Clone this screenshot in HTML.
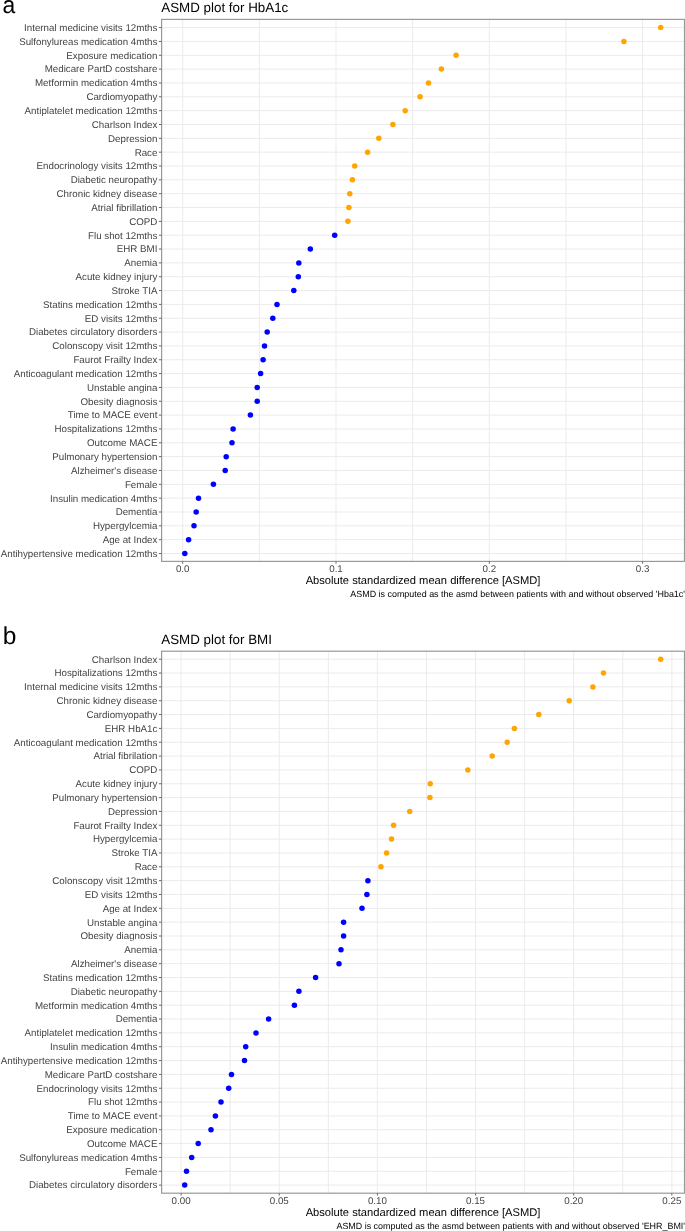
<!DOCTYPE html>
<html><head><meta charset="utf-8"><style>
html,body{margin:0;padding:0;background:#fff;width:685px;height:1231px;overflow:hidden;}
svg{display:block;font-family:"Liberation Sans", sans-serif;will-change:transform;text-rendering:geometricPrecision;}
</style></head><body>
<svg width="685" height="1231" viewBox="0 0 685 1231">
<rect width="685" height="1231" fill="#fff"/>
<text transform="translate(2.55,13.0) scale(0.955,1)" font-size="24" fill="#000">a</text>
<text x="161.3" y="12.3" font-size="13.37" fill="#000">ASMD plot for HbA1c</text>
<line x1="182.70" y1="19.40" x2="182.70" y2="561.40" stroke="#EBEBEB" stroke-width="1"/>
<line x1="259.35" y1="19.40" x2="259.35" y2="561.40" stroke="#EBEBEB" stroke-width="1"/>
<line x1="336.00" y1="19.40" x2="336.00" y2="561.40" stroke="#EBEBEB" stroke-width="1"/>
<line x1="412.65" y1="19.40" x2="412.65" y2="561.40" stroke="#EBEBEB" stroke-width="1"/>
<line x1="489.30" y1="19.40" x2="489.30" y2="561.40" stroke="#EBEBEB" stroke-width="1"/>
<line x1="565.95" y1="19.40" x2="565.95" y2="561.40" stroke="#EBEBEB" stroke-width="1"/>
<line x1="642.60" y1="19.40" x2="642.60" y2="561.40" stroke="#EBEBEB" stroke-width="1"/>
<line x1="161.60" y1="27.60" x2="684.50" y2="27.60" stroke="#EBEBEB" stroke-width="1"/>
<line x1="161.60" y1="41.44" x2="684.50" y2="41.44" stroke="#EBEBEB" stroke-width="1"/>
<line x1="161.60" y1="55.28" x2="684.50" y2="55.28" stroke="#EBEBEB" stroke-width="1"/>
<line x1="161.60" y1="69.12" x2="684.50" y2="69.12" stroke="#EBEBEB" stroke-width="1"/>
<line x1="161.60" y1="82.96" x2="684.50" y2="82.96" stroke="#EBEBEB" stroke-width="1"/>
<line x1="161.60" y1="96.80" x2="684.50" y2="96.80" stroke="#EBEBEB" stroke-width="1"/>
<line x1="161.60" y1="110.64" x2="684.50" y2="110.64" stroke="#EBEBEB" stroke-width="1"/>
<line x1="161.60" y1="124.48" x2="684.50" y2="124.48" stroke="#EBEBEB" stroke-width="1"/>
<line x1="161.60" y1="138.32" x2="684.50" y2="138.32" stroke="#EBEBEB" stroke-width="1"/>
<line x1="161.60" y1="152.16" x2="684.50" y2="152.16" stroke="#EBEBEB" stroke-width="1"/>
<line x1="161.60" y1="166.00" x2="684.50" y2="166.00" stroke="#EBEBEB" stroke-width="1"/>
<line x1="161.60" y1="179.84" x2="684.50" y2="179.84" stroke="#EBEBEB" stroke-width="1"/>
<line x1="161.60" y1="193.68" x2="684.50" y2="193.68" stroke="#EBEBEB" stroke-width="1"/>
<line x1="161.60" y1="207.52" x2="684.50" y2="207.52" stroke="#EBEBEB" stroke-width="1"/>
<line x1="161.60" y1="221.36" x2="684.50" y2="221.36" stroke="#EBEBEB" stroke-width="1"/>
<line x1="161.60" y1="235.20" x2="684.50" y2="235.20" stroke="#EBEBEB" stroke-width="1"/>
<line x1="161.60" y1="249.04" x2="684.50" y2="249.04" stroke="#EBEBEB" stroke-width="1"/>
<line x1="161.60" y1="262.88" x2="684.50" y2="262.88" stroke="#EBEBEB" stroke-width="1"/>
<line x1="161.60" y1="276.72" x2="684.50" y2="276.72" stroke="#EBEBEB" stroke-width="1"/>
<line x1="161.60" y1="290.56" x2="684.50" y2="290.56" stroke="#EBEBEB" stroke-width="1"/>
<line x1="161.60" y1="304.40" x2="684.50" y2="304.40" stroke="#EBEBEB" stroke-width="1"/>
<line x1="161.60" y1="318.24" x2="684.50" y2="318.24" stroke="#EBEBEB" stroke-width="1"/>
<line x1="161.60" y1="332.08" x2="684.50" y2="332.08" stroke="#EBEBEB" stroke-width="1"/>
<line x1="161.60" y1="345.92" x2="684.50" y2="345.92" stroke="#EBEBEB" stroke-width="1"/>
<line x1="161.60" y1="359.76" x2="684.50" y2="359.76" stroke="#EBEBEB" stroke-width="1"/>
<line x1="161.60" y1="373.60" x2="684.50" y2="373.60" stroke="#EBEBEB" stroke-width="1"/>
<line x1="161.60" y1="387.44" x2="684.50" y2="387.44" stroke="#EBEBEB" stroke-width="1"/>
<line x1="161.60" y1="401.28" x2="684.50" y2="401.28" stroke="#EBEBEB" stroke-width="1"/>
<line x1="161.60" y1="415.12" x2="684.50" y2="415.12" stroke="#EBEBEB" stroke-width="1"/>
<line x1="161.60" y1="428.96" x2="684.50" y2="428.96" stroke="#EBEBEB" stroke-width="1"/>
<line x1="161.60" y1="442.80" x2="684.50" y2="442.80" stroke="#EBEBEB" stroke-width="1"/>
<line x1="161.60" y1="456.64" x2="684.50" y2="456.64" stroke="#EBEBEB" stroke-width="1"/>
<line x1="161.60" y1="470.48" x2="684.50" y2="470.48" stroke="#EBEBEB" stroke-width="1"/>
<line x1="161.60" y1="484.32" x2="684.50" y2="484.32" stroke="#EBEBEB" stroke-width="1"/>
<line x1="161.60" y1="498.16" x2="684.50" y2="498.16" stroke="#EBEBEB" stroke-width="1"/>
<line x1="161.60" y1="512.00" x2="684.50" y2="512.00" stroke="#EBEBEB" stroke-width="1"/>
<line x1="161.60" y1="525.84" x2="684.50" y2="525.84" stroke="#EBEBEB" stroke-width="1"/>
<line x1="161.60" y1="539.68" x2="684.50" y2="539.68" stroke="#EBEBEB" stroke-width="1"/>
<line x1="161.60" y1="553.52" x2="684.50" y2="553.52" stroke="#EBEBEB" stroke-width="1"/>
<circle cx="660.70" cy="27.60" r="2.75" fill="#FFA500"/>
<circle cx="623.90" cy="41.44" r="2.75" fill="#FFA500"/>
<circle cx="456.10" cy="55.28" r="2.75" fill="#FFA500"/>
<circle cx="441.40" cy="69.12" r="2.75" fill="#FFA500"/>
<circle cx="428.50" cy="82.96" r="2.75" fill="#FFA500"/>
<circle cx="420.10" cy="96.80" r="2.75" fill="#FFA500"/>
<circle cx="405.20" cy="110.64" r="2.75" fill="#FFA500"/>
<circle cx="392.90" cy="124.48" r="2.75" fill="#FFA500"/>
<circle cx="378.80" cy="138.32" r="2.75" fill="#FFA500"/>
<circle cx="367.60" cy="152.16" r="2.75" fill="#FFA500"/>
<circle cx="354.70" cy="166.00" r="2.75" fill="#FFA500"/>
<circle cx="352.40" cy="179.84" r="2.75" fill="#FFA500"/>
<circle cx="349.80" cy="193.68" r="2.75" fill="#FFA500"/>
<circle cx="348.90" cy="207.52" r="2.75" fill="#FFA500"/>
<circle cx="347.90" cy="221.36" r="2.75" fill="#FFA500"/>
<circle cx="334.70" cy="235.20" r="2.75" fill="#0000FF"/>
<circle cx="310.30" cy="249.04" r="2.75" fill="#0000FF"/>
<circle cx="298.80" cy="262.88" r="2.75" fill="#0000FF"/>
<circle cx="298.30" cy="276.72" r="2.75" fill="#0000FF"/>
<circle cx="293.80" cy="290.56" r="2.75" fill="#0000FF"/>
<circle cx="277.00" cy="304.40" r="2.75" fill="#0000FF"/>
<circle cx="272.80" cy="318.24" r="2.75" fill="#0000FF"/>
<circle cx="267.20" cy="332.08" r="2.75" fill="#0000FF"/>
<circle cx="264.50" cy="345.92" r="2.75" fill="#0000FF"/>
<circle cx="263.10" cy="359.76" r="2.75" fill="#0000FF"/>
<circle cx="260.60" cy="373.60" r="2.75" fill="#0000FF"/>
<circle cx="257.20" cy="387.44" r="2.75" fill="#0000FF"/>
<circle cx="257.20" cy="401.28" r="2.75" fill="#0000FF"/>
<circle cx="250.40" cy="415.12" r="2.75" fill="#0000FF"/>
<circle cx="233.10" cy="428.96" r="2.75" fill="#0000FF"/>
<circle cx="232.00" cy="442.80" r="2.75" fill="#0000FF"/>
<circle cx="226.20" cy="456.64" r="2.75" fill="#0000FF"/>
<circle cx="225.20" cy="470.48" r="2.75" fill="#0000FF"/>
<circle cx="213.40" cy="484.32" r="2.75" fill="#0000FF"/>
<circle cx="198.50" cy="498.16" r="2.75" fill="#0000FF"/>
<circle cx="196.20" cy="512.00" r="2.75" fill="#0000FF"/>
<circle cx="194.00" cy="525.84" r="2.75" fill="#0000FF"/>
<circle cx="188.60" cy="539.68" r="2.75" fill="#0000FF"/>
<circle cx="184.80" cy="553.52" r="2.75" fill="#0000FF"/>
<rect x="161.60" y="19.40" width="522.90" height="542.00" fill="none" stroke="#999999" stroke-width="1.2"/>
<line x1="158.9" y1="27.60" x2="161.60" y2="27.60" stroke="#666666" stroke-width="1"/>
<text x="157.4" y="30.95" font-size="9.75" fill="#444444" text-anchor="end">Internal medicine visits 12mths</text>
<line x1="158.9" y1="41.44" x2="161.60" y2="41.44" stroke="#666666" stroke-width="1"/>
<text x="157.4" y="44.79" font-size="9.75" fill="#444444" text-anchor="end">Sulfonylureas medication 4mths</text>
<line x1="158.9" y1="55.28" x2="161.60" y2="55.28" stroke="#666666" stroke-width="1"/>
<text x="157.4" y="58.63" font-size="9.75" fill="#444444" text-anchor="end">Exposure medication</text>
<line x1="158.9" y1="69.12" x2="161.60" y2="69.12" stroke="#666666" stroke-width="1"/>
<text x="157.4" y="72.47" font-size="9.75" fill="#444444" text-anchor="end">Medicare PartD costshare</text>
<line x1="158.9" y1="82.96" x2="161.60" y2="82.96" stroke="#666666" stroke-width="1"/>
<text x="157.4" y="86.31" font-size="9.75" fill="#444444" text-anchor="end">Metformin medication 4mths</text>
<line x1="158.9" y1="96.80" x2="161.60" y2="96.80" stroke="#666666" stroke-width="1"/>
<text x="157.4" y="100.15" font-size="9.75" fill="#444444" text-anchor="end">Cardiomyopathy</text>
<line x1="158.9" y1="110.64" x2="161.60" y2="110.64" stroke="#666666" stroke-width="1"/>
<text x="157.4" y="113.99" font-size="9.75" fill="#444444" text-anchor="end">Antiplatelet medication 12mths</text>
<line x1="158.9" y1="124.48" x2="161.60" y2="124.48" stroke="#666666" stroke-width="1"/>
<text x="157.4" y="127.83" font-size="9.75" fill="#444444" text-anchor="end">Charlson Index</text>
<line x1="158.9" y1="138.32" x2="161.60" y2="138.32" stroke="#666666" stroke-width="1"/>
<text x="157.4" y="141.67" font-size="9.75" fill="#444444" text-anchor="end">Depression</text>
<line x1="158.9" y1="152.16" x2="161.60" y2="152.16" stroke="#666666" stroke-width="1"/>
<text x="157.4" y="155.51" font-size="9.75" fill="#444444" text-anchor="end">Race</text>
<line x1="158.9" y1="166.00" x2="161.60" y2="166.00" stroke="#666666" stroke-width="1"/>
<text x="157.4" y="169.35" font-size="9.75" fill="#444444" text-anchor="end">Endocrinology visits 12mths</text>
<line x1="158.9" y1="179.84" x2="161.60" y2="179.84" stroke="#666666" stroke-width="1"/>
<text x="157.4" y="183.19" font-size="9.75" fill="#444444" text-anchor="end">Diabetic neuropathy</text>
<line x1="158.9" y1="193.68" x2="161.60" y2="193.68" stroke="#666666" stroke-width="1"/>
<text x="157.4" y="197.03" font-size="9.75" fill="#444444" text-anchor="end">Chronic kidney disease</text>
<line x1="158.9" y1="207.52" x2="161.60" y2="207.52" stroke="#666666" stroke-width="1"/>
<text x="157.4" y="210.87" font-size="9.75" fill="#444444" text-anchor="end">Atrial fibrillation</text>
<line x1="158.9" y1="221.36" x2="161.60" y2="221.36" stroke="#666666" stroke-width="1"/>
<text x="157.4" y="224.71" font-size="9.75" fill="#444444" text-anchor="end">COPD</text>
<line x1="158.9" y1="235.20" x2="161.60" y2="235.20" stroke="#666666" stroke-width="1"/>
<text x="157.4" y="238.55" font-size="9.75" fill="#444444" text-anchor="end">Flu shot 12mths</text>
<line x1="158.9" y1="249.04" x2="161.60" y2="249.04" stroke="#666666" stroke-width="1"/>
<text x="157.4" y="252.39" font-size="9.75" fill="#444444" text-anchor="end">EHR BMI</text>
<line x1="158.9" y1="262.88" x2="161.60" y2="262.88" stroke="#666666" stroke-width="1"/>
<text x="157.4" y="266.23" font-size="9.75" fill="#444444" text-anchor="end">Anemia</text>
<line x1="158.9" y1="276.72" x2="161.60" y2="276.72" stroke="#666666" stroke-width="1"/>
<text x="157.4" y="280.07" font-size="9.75" fill="#444444" text-anchor="end">Acute kidney injury</text>
<line x1="158.9" y1="290.56" x2="161.60" y2="290.56" stroke="#666666" stroke-width="1"/>
<text x="157.4" y="293.91" font-size="9.75" fill="#444444" text-anchor="end">Stroke TIA</text>
<line x1="158.9" y1="304.40" x2="161.60" y2="304.40" stroke="#666666" stroke-width="1"/>
<text x="157.4" y="307.75" font-size="9.75" fill="#444444" text-anchor="end">Statins medication 12mths</text>
<line x1="158.9" y1="318.24" x2="161.60" y2="318.24" stroke="#666666" stroke-width="1"/>
<text x="157.4" y="321.59" font-size="9.75" fill="#444444" text-anchor="end">ED visits 12mths</text>
<line x1="158.9" y1="332.08" x2="161.60" y2="332.08" stroke="#666666" stroke-width="1"/>
<text x="157.4" y="335.43" font-size="9.75" fill="#444444" text-anchor="end">Diabetes circulatory disorders</text>
<line x1="158.9" y1="345.92" x2="161.60" y2="345.92" stroke="#666666" stroke-width="1"/>
<text x="157.4" y="349.27" font-size="9.75" fill="#444444" text-anchor="end">Colonscopy visit 12mths</text>
<line x1="158.9" y1="359.76" x2="161.60" y2="359.76" stroke="#666666" stroke-width="1"/>
<text x="157.4" y="363.11" font-size="9.75" fill="#444444" text-anchor="end">Faurot Frailty Index</text>
<line x1="158.9" y1="373.60" x2="161.60" y2="373.60" stroke="#666666" stroke-width="1"/>
<text x="157.4" y="376.95" font-size="9.75" fill="#444444" text-anchor="end">Anticoagulant medication 12mths</text>
<line x1="158.9" y1="387.44" x2="161.60" y2="387.44" stroke="#666666" stroke-width="1"/>
<text x="157.4" y="390.79" font-size="9.75" fill="#444444" text-anchor="end">Unstable angina</text>
<line x1="158.9" y1="401.28" x2="161.60" y2="401.28" stroke="#666666" stroke-width="1"/>
<text x="157.4" y="404.63" font-size="9.75" fill="#444444" text-anchor="end">Obesity diagnosis</text>
<line x1="158.9" y1="415.12" x2="161.60" y2="415.12" stroke="#666666" stroke-width="1"/>
<text x="157.4" y="418.47" font-size="9.75" fill="#444444" text-anchor="end">Time to MACE event</text>
<line x1="158.9" y1="428.96" x2="161.60" y2="428.96" stroke="#666666" stroke-width="1"/>
<text x="157.4" y="432.31" font-size="9.75" fill="#444444" text-anchor="end">Hospitalizations 12mths</text>
<line x1="158.9" y1="442.80" x2="161.60" y2="442.80" stroke="#666666" stroke-width="1"/>
<text x="157.4" y="446.15" font-size="9.75" fill="#444444" text-anchor="end">Outcome MACE</text>
<line x1="158.9" y1="456.64" x2="161.60" y2="456.64" stroke="#666666" stroke-width="1"/>
<text x="157.4" y="459.99" font-size="9.75" fill="#444444" text-anchor="end">Pulmonary hypertension</text>
<line x1="158.9" y1="470.48" x2="161.60" y2="470.48" stroke="#666666" stroke-width="1"/>
<text x="157.4" y="473.83" font-size="9.75" fill="#444444" text-anchor="end">Alzheimer&#39;s disease</text>
<line x1="158.9" y1="484.32" x2="161.60" y2="484.32" stroke="#666666" stroke-width="1"/>
<text x="157.4" y="487.67" font-size="9.75" fill="#444444" text-anchor="end">Female</text>
<line x1="158.9" y1="498.16" x2="161.60" y2="498.16" stroke="#666666" stroke-width="1"/>
<text x="157.4" y="501.51" font-size="9.75" fill="#444444" text-anchor="end">Insulin medication 4mths</text>
<line x1="158.9" y1="512.00" x2="161.60" y2="512.00" stroke="#666666" stroke-width="1"/>
<text x="157.4" y="515.35" font-size="9.75" fill="#444444" text-anchor="end">Dementia</text>
<line x1="158.9" y1="525.84" x2="161.60" y2="525.84" stroke="#666666" stroke-width="1"/>
<text x="157.4" y="529.19" font-size="9.75" fill="#444444" text-anchor="end">Hypergylcemia</text>
<line x1="158.9" y1="539.68" x2="161.60" y2="539.68" stroke="#666666" stroke-width="1"/>
<text x="157.4" y="543.03" font-size="9.75" fill="#444444" text-anchor="end">Age at Index</text>
<line x1="158.9" y1="553.52" x2="161.60" y2="553.52" stroke="#666666" stroke-width="1"/>
<text x="157.4" y="556.87" font-size="9.75" fill="#444444" text-anchor="end">Antihypertensive medication 12mths</text>
<line x1="182.70" y1="561.40" x2="182.70" y2="563.70" stroke="#666666" stroke-width="1"/>
<text x="182.70" y="572.00" font-size="9.75" fill="#444444" text-anchor="middle">0.0</text>
<line x1="336.00" y1="561.40" x2="336.00" y2="563.70" stroke="#666666" stroke-width="1"/>
<text x="336.00" y="572.00" font-size="9.75" fill="#444444" text-anchor="middle">0.1</text>
<line x1="489.30" y1="561.40" x2="489.30" y2="563.70" stroke="#666666" stroke-width="1"/>
<text x="489.30" y="572.00" font-size="9.75" fill="#444444" text-anchor="middle">0.2</text>
<line x1="642.60" y1="561.40" x2="642.60" y2="563.70" stroke="#666666" stroke-width="1"/>
<text x="642.60" y="572.00" font-size="9.75" fill="#444444" text-anchor="middle">0.3</text>
<text x="423.05" y="584.00" font-size="11.17" fill="#000" text-anchor="middle">Absolute standardized mean difference [ASMD]</text>
<text x="685.0" y="596.80" font-size="8.94" fill="#000" text-anchor="end">ASMD is computed as the asmd between patients with and without observed &#39;Hba1c&#39;</text>
<text x="2.8" y="643.6" font-size="24.5" fill="#000">b</text>
<text x="161.3" y="644.1" font-size="13.37" fill="#000">ASMD plot for BMI</text>
<line x1="181.10" y1="651.20" x2="181.10" y2="1193.20" stroke="#EBEBEB" stroke-width="1"/>
<line x1="230.18" y1="651.20" x2="230.18" y2="1193.20" stroke="#EBEBEB" stroke-width="1"/>
<line x1="279.25" y1="651.20" x2="279.25" y2="1193.20" stroke="#EBEBEB" stroke-width="1"/>
<line x1="328.32" y1="651.20" x2="328.32" y2="1193.20" stroke="#EBEBEB" stroke-width="1"/>
<line x1="377.40" y1="651.20" x2="377.40" y2="1193.20" stroke="#EBEBEB" stroke-width="1"/>
<line x1="426.48" y1="651.20" x2="426.48" y2="1193.20" stroke="#EBEBEB" stroke-width="1"/>
<line x1="475.55" y1="651.20" x2="475.55" y2="1193.20" stroke="#EBEBEB" stroke-width="1"/>
<line x1="524.62" y1="651.20" x2="524.62" y2="1193.20" stroke="#EBEBEB" stroke-width="1"/>
<line x1="573.70" y1="651.20" x2="573.70" y2="1193.20" stroke="#EBEBEB" stroke-width="1"/>
<line x1="622.77" y1="651.20" x2="622.77" y2="1193.20" stroke="#EBEBEB" stroke-width="1"/>
<line x1="671.85" y1="651.20" x2="671.85" y2="1193.20" stroke="#EBEBEB" stroke-width="1"/>
<line x1="161.60" y1="659.20" x2="684.50" y2="659.20" stroke="#EBEBEB" stroke-width="1"/>
<line x1="161.60" y1="673.04" x2="684.50" y2="673.04" stroke="#EBEBEB" stroke-width="1"/>
<line x1="161.60" y1="686.88" x2="684.50" y2="686.88" stroke="#EBEBEB" stroke-width="1"/>
<line x1="161.60" y1="700.72" x2="684.50" y2="700.72" stroke="#EBEBEB" stroke-width="1"/>
<line x1="161.60" y1="714.56" x2="684.50" y2="714.56" stroke="#EBEBEB" stroke-width="1"/>
<line x1="161.60" y1="728.40" x2="684.50" y2="728.40" stroke="#EBEBEB" stroke-width="1"/>
<line x1="161.60" y1="742.24" x2="684.50" y2="742.24" stroke="#EBEBEB" stroke-width="1"/>
<line x1="161.60" y1="756.08" x2="684.50" y2="756.08" stroke="#EBEBEB" stroke-width="1"/>
<line x1="161.60" y1="769.92" x2="684.50" y2="769.92" stroke="#EBEBEB" stroke-width="1"/>
<line x1="161.60" y1="783.76" x2="684.50" y2="783.76" stroke="#EBEBEB" stroke-width="1"/>
<line x1="161.60" y1="797.60" x2="684.50" y2="797.60" stroke="#EBEBEB" stroke-width="1"/>
<line x1="161.60" y1="811.44" x2="684.50" y2="811.44" stroke="#EBEBEB" stroke-width="1"/>
<line x1="161.60" y1="825.28" x2="684.50" y2="825.28" stroke="#EBEBEB" stroke-width="1"/>
<line x1="161.60" y1="839.12" x2="684.50" y2="839.12" stroke="#EBEBEB" stroke-width="1"/>
<line x1="161.60" y1="852.96" x2="684.50" y2="852.96" stroke="#EBEBEB" stroke-width="1"/>
<line x1="161.60" y1="866.80" x2="684.50" y2="866.80" stroke="#EBEBEB" stroke-width="1"/>
<line x1="161.60" y1="880.64" x2="684.50" y2="880.64" stroke="#EBEBEB" stroke-width="1"/>
<line x1="161.60" y1="894.48" x2="684.50" y2="894.48" stroke="#EBEBEB" stroke-width="1"/>
<line x1="161.60" y1="908.32" x2="684.50" y2="908.32" stroke="#EBEBEB" stroke-width="1"/>
<line x1="161.60" y1="922.16" x2="684.50" y2="922.16" stroke="#EBEBEB" stroke-width="1"/>
<line x1="161.60" y1="936.00" x2="684.50" y2="936.00" stroke="#EBEBEB" stroke-width="1"/>
<line x1="161.60" y1="949.84" x2="684.50" y2="949.84" stroke="#EBEBEB" stroke-width="1"/>
<line x1="161.60" y1="963.68" x2="684.50" y2="963.68" stroke="#EBEBEB" stroke-width="1"/>
<line x1="161.60" y1="977.52" x2="684.50" y2="977.52" stroke="#EBEBEB" stroke-width="1"/>
<line x1="161.60" y1="991.36" x2="684.50" y2="991.36" stroke="#EBEBEB" stroke-width="1"/>
<line x1="161.60" y1="1005.20" x2="684.50" y2="1005.20" stroke="#EBEBEB" stroke-width="1"/>
<line x1="161.60" y1="1019.04" x2="684.50" y2="1019.04" stroke="#EBEBEB" stroke-width="1"/>
<line x1="161.60" y1="1032.88" x2="684.50" y2="1032.88" stroke="#EBEBEB" stroke-width="1"/>
<line x1="161.60" y1="1046.72" x2="684.50" y2="1046.72" stroke="#EBEBEB" stroke-width="1"/>
<line x1="161.60" y1="1060.56" x2="684.50" y2="1060.56" stroke="#EBEBEB" stroke-width="1"/>
<line x1="161.60" y1="1074.40" x2="684.50" y2="1074.40" stroke="#EBEBEB" stroke-width="1"/>
<line x1="161.60" y1="1088.24" x2="684.50" y2="1088.24" stroke="#EBEBEB" stroke-width="1"/>
<line x1="161.60" y1="1102.08" x2="684.50" y2="1102.08" stroke="#EBEBEB" stroke-width="1"/>
<line x1="161.60" y1="1115.92" x2="684.50" y2="1115.92" stroke="#EBEBEB" stroke-width="1"/>
<line x1="161.60" y1="1129.76" x2="684.50" y2="1129.76" stroke="#EBEBEB" stroke-width="1"/>
<line x1="161.60" y1="1143.60" x2="684.50" y2="1143.60" stroke="#EBEBEB" stroke-width="1"/>
<line x1="161.60" y1="1157.44" x2="684.50" y2="1157.44" stroke="#EBEBEB" stroke-width="1"/>
<line x1="161.60" y1="1171.28" x2="684.50" y2="1171.28" stroke="#EBEBEB" stroke-width="1"/>
<line x1="161.60" y1="1185.12" x2="684.50" y2="1185.12" stroke="#EBEBEB" stroke-width="1"/>
<circle cx="660.70" cy="659.20" r="2.75" fill="#FFA500"/>
<circle cx="603.50" cy="673.04" r="2.75" fill="#FFA500"/>
<circle cx="592.90" cy="686.88" r="2.75" fill="#FFA500"/>
<circle cx="569.20" cy="700.72" r="2.75" fill="#FFA500"/>
<circle cx="538.80" cy="714.56" r="2.75" fill="#FFA500"/>
<circle cx="514.40" cy="728.40" r="2.75" fill="#FFA500"/>
<circle cx="507.20" cy="742.24" r="2.75" fill="#FFA500"/>
<circle cx="492.20" cy="756.08" r="2.75" fill="#FFA500"/>
<circle cx="467.80" cy="769.92" r="2.75" fill="#FFA500"/>
<circle cx="430.20" cy="783.76" r="2.75" fill="#FFA500"/>
<circle cx="429.90" cy="797.60" r="2.75" fill="#FFA500"/>
<circle cx="409.70" cy="811.44" r="2.75" fill="#FFA500"/>
<circle cx="393.60" cy="825.28" r="2.75" fill="#FFA500"/>
<circle cx="391.50" cy="839.12" r="2.75" fill="#FFA500"/>
<circle cx="386.60" cy="852.96" r="2.75" fill="#FFA500"/>
<circle cx="380.90" cy="866.80" r="2.75" fill="#FFA500"/>
<circle cx="367.90" cy="880.64" r="2.75" fill="#0000FF"/>
<circle cx="366.90" cy="894.48" r="2.75" fill="#0000FF"/>
<circle cx="362.00" cy="908.32" r="2.75" fill="#0000FF"/>
<circle cx="343.60" cy="922.16" r="2.75" fill="#0000FF"/>
<circle cx="343.60" cy="936.00" r="2.75" fill="#0000FF"/>
<circle cx="341.00" cy="949.84" r="2.75" fill="#0000FF"/>
<circle cx="339.00" cy="963.68" r="2.75" fill="#0000FF"/>
<circle cx="315.60" cy="977.52" r="2.75" fill="#0000FF"/>
<circle cx="298.90" cy="991.36" r="2.75" fill="#0000FF"/>
<circle cx="294.40" cy="1005.20" r="2.75" fill="#0000FF"/>
<circle cx="268.60" cy="1019.04" r="2.75" fill="#0000FF"/>
<circle cx="256.00" cy="1032.88" r="2.75" fill="#0000FF"/>
<circle cx="245.70" cy="1046.72" r="2.75" fill="#0000FF"/>
<circle cx="244.50" cy="1060.56" r="2.75" fill="#0000FF"/>
<circle cx="231.50" cy="1074.40" r="2.75" fill="#0000FF"/>
<circle cx="228.70" cy="1088.24" r="2.75" fill="#0000FF"/>
<circle cx="221.00" cy="1102.08" r="2.75" fill="#0000FF"/>
<circle cx="215.40" cy="1115.92" r="2.75" fill="#0000FF"/>
<circle cx="211.00" cy="1129.76" r="2.75" fill="#0000FF"/>
<circle cx="198.20" cy="1143.60" r="2.75" fill="#0000FF"/>
<circle cx="191.70" cy="1157.44" r="2.75" fill="#0000FF"/>
<circle cx="186.50" cy="1171.28" r="2.75" fill="#0000FF"/>
<circle cx="184.70" cy="1185.12" r="2.75" fill="#0000FF"/>
<rect x="161.60" y="651.20" width="522.90" height="542.00" fill="none" stroke="#999999" stroke-width="1.2"/>
<line x1="158.9" y1="659.20" x2="161.60" y2="659.20" stroke="#666666" stroke-width="1"/>
<text x="157.4" y="662.55" font-size="9.75" fill="#444444" text-anchor="end">Charlson Index</text>
<line x1="158.9" y1="673.04" x2="161.60" y2="673.04" stroke="#666666" stroke-width="1"/>
<text x="157.4" y="676.39" font-size="9.75" fill="#444444" text-anchor="end">Hospitalizations 12mths</text>
<line x1="158.9" y1="686.88" x2="161.60" y2="686.88" stroke="#666666" stroke-width="1"/>
<text x="157.4" y="690.23" font-size="9.75" fill="#444444" text-anchor="end">Internal medicine visits 12mths</text>
<line x1="158.9" y1="700.72" x2="161.60" y2="700.72" stroke="#666666" stroke-width="1"/>
<text x="157.4" y="704.07" font-size="9.75" fill="#444444" text-anchor="end">Chronic kidney disease</text>
<line x1="158.9" y1="714.56" x2="161.60" y2="714.56" stroke="#666666" stroke-width="1"/>
<text x="157.4" y="717.91" font-size="9.75" fill="#444444" text-anchor="end">Cardiomyopathy</text>
<line x1="158.9" y1="728.40" x2="161.60" y2="728.40" stroke="#666666" stroke-width="1"/>
<text x="157.4" y="731.75" font-size="9.75" fill="#444444" text-anchor="end">EHR HbA1c</text>
<line x1="158.9" y1="742.24" x2="161.60" y2="742.24" stroke="#666666" stroke-width="1"/>
<text x="157.4" y="745.59" font-size="9.75" fill="#444444" text-anchor="end">Anticoagulant medication 12mths</text>
<line x1="158.9" y1="756.08" x2="161.60" y2="756.08" stroke="#666666" stroke-width="1"/>
<text x="157.4" y="759.43" font-size="9.75" fill="#444444" text-anchor="end">Atrial fibrilation</text>
<line x1="158.9" y1="769.92" x2="161.60" y2="769.92" stroke="#666666" stroke-width="1"/>
<text x="157.4" y="773.27" font-size="9.75" fill="#444444" text-anchor="end">COPD</text>
<line x1="158.9" y1="783.76" x2="161.60" y2="783.76" stroke="#666666" stroke-width="1"/>
<text x="157.4" y="787.11" font-size="9.75" fill="#444444" text-anchor="end">Acute kidney injury</text>
<line x1="158.9" y1="797.60" x2="161.60" y2="797.60" stroke="#666666" stroke-width="1"/>
<text x="157.4" y="800.95" font-size="9.75" fill="#444444" text-anchor="end">Pulmonary hypertension</text>
<line x1="158.9" y1="811.44" x2="161.60" y2="811.44" stroke="#666666" stroke-width="1"/>
<text x="157.4" y="814.79" font-size="9.75" fill="#444444" text-anchor="end">Depression</text>
<line x1="158.9" y1="825.28" x2="161.60" y2="825.28" stroke="#666666" stroke-width="1"/>
<text x="157.4" y="828.63" font-size="9.75" fill="#444444" text-anchor="end">Faurot Frailty Index</text>
<line x1="158.9" y1="839.12" x2="161.60" y2="839.12" stroke="#666666" stroke-width="1"/>
<text x="157.4" y="842.47" font-size="9.75" fill="#444444" text-anchor="end">Hypergylcemia</text>
<line x1="158.9" y1="852.96" x2="161.60" y2="852.96" stroke="#666666" stroke-width="1"/>
<text x="157.4" y="856.31" font-size="9.75" fill="#444444" text-anchor="end">Stroke TIA</text>
<line x1="158.9" y1="866.80" x2="161.60" y2="866.80" stroke="#666666" stroke-width="1"/>
<text x="157.4" y="870.15" font-size="9.75" fill="#444444" text-anchor="end">Race</text>
<line x1="158.9" y1="880.64" x2="161.60" y2="880.64" stroke="#666666" stroke-width="1"/>
<text x="157.4" y="883.99" font-size="9.75" fill="#444444" text-anchor="end">Colonscopy visit 12mths</text>
<line x1="158.9" y1="894.48" x2="161.60" y2="894.48" stroke="#666666" stroke-width="1"/>
<text x="157.4" y="897.83" font-size="9.75" fill="#444444" text-anchor="end">ED visits 12mths</text>
<line x1="158.9" y1="908.32" x2="161.60" y2="908.32" stroke="#666666" stroke-width="1"/>
<text x="157.4" y="911.67" font-size="9.75" fill="#444444" text-anchor="end">Age at Index</text>
<line x1="158.9" y1="922.16" x2="161.60" y2="922.16" stroke="#666666" stroke-width="1"/>
<text x="157.4" y="925.51" font-size="9.75" fill="#444444" text-anchor="end">Unstable angina</text>
<line x1="158.9" y1="936.00" x2="161.60" y2="936.00" stroke="#666666" stroke-width="1"/>
<text x="157.4" y="939.35" font-size="9.75" fill="#444444" text-anchor="end">Obesity diagnosis</text>
<line x1="158.9" y1="949.84" x2="161.60" y2="949.84" stroke="#666666" stroke-width="1"/>
<text x="157.4" y="953.19" font-size="9.75" fill="#444444" text-anchor="end">Anemia</text>
<line x1="158.9" y1="963.68" x2="161.60" y2="963.68" stroke="#666666" stroke-width="1"/>
<text x="157.4" y="967.03" font-size="9.75" fill="#444444" text-anchor="end">Alzheimer&#39;s disease</text>
<line x1="158.9" y1="977.52" x2="161.60" y2="977.52" stroke="#666666" stroke-width="1"/>
<text x="157.4" y="980.87" font-size="9.75" fill="#444444" text-anchor="end">Statins medication 12mths</text>
<line x1="158.9" y1="991.36" x2="161.60" y2="991.36" stroke="#666666" stroke-width="1"/>
<text x="157.4" y="994.71" font-size="9.75" fill="#444444" text-anchor="end">Diabetic neuropathy</text>
<line x1="158.9" y1="1005.20" x2="161.60" y2="1005.20" stroke="#666666" stroke-width="1"/>
<text x="157.4" y="1008.55" font-size="9.75" fill="#444444" text-anchor="end">Metformin medication 4mths</text>
<line x1="158.9" y1="1019.04" x2="161.60" y2="1019.04" stroke="#666666" stroke-width="1"/>
<text x="157.4" y="1022.39" font-size="9.75" fill="#444444" text-anchor="end">Dementia</text>
<line x1="158.9" y1="1032.88" x2="161.60" y2="1032.88" stroke="#666666" stroke-width="1"/>
<text x="157.4" y="1036.23" font-size="9.75" fill="#444444" text-anchor="end">Antiplatelet medication 12mths</text>
<line x1="158.9" y1="1046.72" x2="161.60" y2="1046.72" stroke="#666666" stroke-width="1"/>
<text x="157.4" y="1050.07" font-size="9.75" fill="#444444" text-anchor="end">Insulin medication 4mths</text>
<line x1="158.9" y1="1060.56" x2="161.60" y2="1060.56" stroke="#666666" stroke-width="1"/>
<text x="157.4" y="1063.91" font-size="9.75" fill="#444444" text-anchor="end">Antihypertensive medication 12mths</text>
<line x1="158.9" y1="1074.40" x2="161.60" y2="1074.40" stroke="#666666" stroke-width="1"/>
<text x="157.4" y="1077.75" font-size="9.75" fill="#444444" text-anchor="end">Medicare PartD costshare</text>
<line x1="158.9" y1="1088.24" x2="161.60" y2="1088.24" stroke="#666666" stroke-width="1"/>
<text x="157.4" y="1091.59" font-size="9.75" fill="#444444" text-anchor="end">Endocrinology visits 12mths</text>
<line x1="158.9" y1="1102.08" x2="161.60" y2="1102.08" stroke="#666666" stroke-width="1"/>
<text x="157.4" y="1105.43" font-size="9.75" fill="#444444" text-anchor="end">Flu shot 12mths</text>
<line x1="158.9" y1="1115.92" x2="161.60" y2="1115.92" stroke="#666666" stroke-width="1"/>
<text x="157.4" y="1119.27" font-size="9.75" fill="#444444" text-anchor="end">Time to MACE event</text>
<line x1="158.9" y1="1129.76" x2="161.60" y2="1129.76" stroke="#666666" stroke-width="1"/>
<text x="157.4" y="1133.11" font-size="9.75" fill="#444444" text-anchor="end">Exposure medication</text>
<line x1="158.9" y1="1143.60" x2="161.60" y2="1143.60" stroke="#666666" stroke-width="1"/>
<text x="157.4" y="1146.95" font-size="9.75" fill="#444444" text-anchor="end">Outcome MACE</text>
<line x1="158.9" y1="1157.44" x2="161.60" y2="1157.44" stroke="#666666" stroke-width="1"/>
<text x="157.4" y="1160.79" font-size="9.75" fill="#444444" text-anchor="end">Sulfonylureas medication 4mths</text>
<line x1="158.9" y1="1171.28" x2="161.60" y2="1171.28" stroke="#666666" stroke-width="1"/>
<text x="157.4" y="1174.63" font-size="9.75" fill="#444444" text-anchor="end">Female</text>
<line x1="158.9" y1="1185.12" x2="161.60" y2="1185.12" stroke="#666666" stroke-width="1"/>
<text x="157.4" y="1188.47" font-size="9.75" fill="#444444" text-anchor="end">Diabetes circulatory disorders</text>
<line x1="181.10" y1="1193.20" x2="181.10" y2="1195.50" stroke="#666666" stroke-width="1"/>
<text x="181.10" y="1203.80" font-size="9.75" fill="#444444" text-anchor="middle">0.00</text>
<line x1="279.25" y1="1193.20" x2="279.25" y2="1195.50" stroke="#666666" stroke-width="1"/>
<text x="279.25" y="1203.80" font-size="9.75" fill="#444444" text-anchor="middle">0.05</text>
<line x1="377.40" y1="1193.20" x2="377.40" y2="1195.50" stroke="#666666" stroke-width="1"/>
<text x="377.40" y="1203.80" font-size="9.75" fill="#444444" text-anchor="middle">0.10</text>
<line x1="475.55" y1="1193.20" x2="475.55" y2="1195.50" stroke="#666666" stroke-width="1"/>
<text x="475.55" y="1203.80" font-size="9.75" fill="#444444" text-anchor="middle">0.15</text>
<line x1="573.70" y1="1193.20" x2="573.70" y2="1195.50" stroke="#666666" stroke-width="1"/>
<text x="573.70" y="1203.80" font-size="9.75" fill="#444444" text-anchor="middle">0.20</text>
<line x1="671.85" y1="1193.20" x2="671.85" y2="1195.50" stroke="#666666" stroke-width="1"/>
<text x="671.85" y="1203.80" font-size="9.75" fill="#444444" text-anchor="middle">0.25</text>
<text x="423.05" y="1215.80" font-size="11.17" fill="#000" text-anchor="middle">Absolute standardized mean difference [ASMD]</text>
<text x="685.0" y="1228.60" font-size="8.94" fill="#000" text-anchor="end">ASMD is computed as the asmd between patients with and without observed &#39;EHR_BMI&#39;</text>
</svg>
</body></html>
